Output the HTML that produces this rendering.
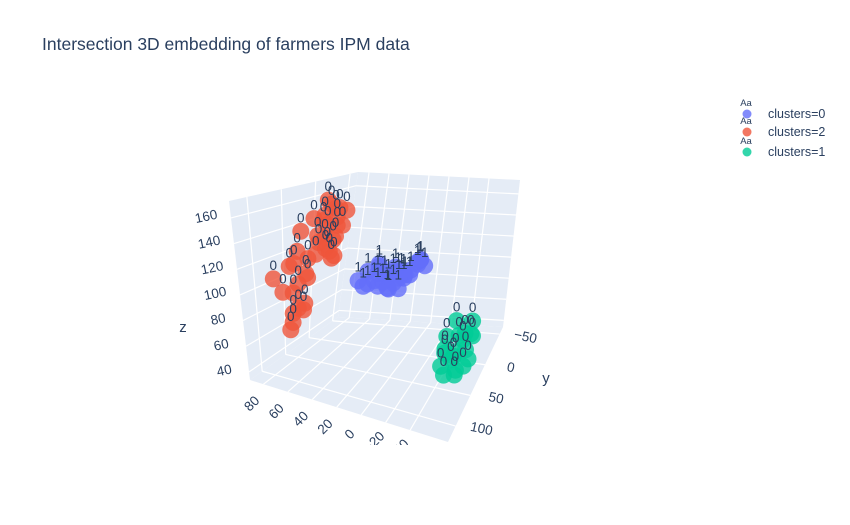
<!DOCTYPE html>
<html><head><meta charset="utf-8"><style>
html,body{margin:0;padding:0;background:#fff;}
svg{display:block;font-family:"Liberation Sans",Arial,sans-serif;}
</style></head><body>
<svg id="chart" width="850" height="525" viewBox="0 0 850 525">
<defs><clipPath id="xclip"><rect x="0" y="0" width="850" height="445"/></clipPath></defs>
<text x="42" y="50" font-size="17.5" fill="#2a3f5f">Intersection 3D embedding of farmers IPM data</text>
<g id="scene"></g>
<g id="legend"></g>
</svg>
<script>
const xTicks = [80, 60, 40, 20, 0, -20, -40];
const yTicks = [-50, 0, 50, 100];
const zTicks = [40, 60, 80, 100, 120, 140, 160];
const redX = [78,74,70,66,80,72,68,76,64,70,82,74,69,71,77,73,65,79,75,67,72,70,76,68,74,71,66,78,73,69,84,86,62,60,82,64,80,58,85,63];
const redY = [68,72,60,66,75,64,58,70,62,20,12,8,4,-2,10,15,6,0,-6,18,2,70,65,55,25,14,8,62,5,10,40,30,35,10,50,-4,20,28,80,45];
const redZ = [62,70,78,86,94,100,108,115,122,130,112,120,128,136,142,148,154,158,150,118,124,82,92,104,132,140,146,74,156,110,120,135,125,140,112,150,145,118,105,132];
const blueX = [62,58,55,50,46,42,38,34,30,26,22,18,14,10,6,52,44,36,28,20,12,48,40,32,24,16,8,56,30,18,38,26];
const blueY = [-30,-40,-35,-45,-28,-38,-50,-33,-42,-47,-30,-40,-52,-36,-44,-48,-32,-26,-50,-34,-46,-40,-45,-38,-30,-52,-38,-28,-35,-42,-40,-36];
const blueZ = [80,86,76,90,82,78,84,74,88,80,92,86,96,100,94,82,76,90,84,88,98,94,80,78,86,92,102,76,94,90,72,74];
const greenX = [-45,-50,-55,-60,-48,-52,-58,-62,-46,-54,-64,-50,-56,-60,-44,-66,-52,-58,-48,-62];
const greenY = [40,30,20,35,50,45,25,15,55,38,28,60,48,10,32,42,22,52,18,36];
const greenZ = [58,52,62,48,66,56,70,64,54,60,72,50,46,74,68,58,66,52,76,62];
const seriesNames = ["clusters=0", "clusters=2", "clusters=1"];
const seriesText = ["1", "0", "0"];

const NS = "http://www.w3.org/2000/svg";
const scene = document.getElementById('scene');
const legend = document.getElementById('legend');
const C000=[250,380],C100=[448,442],C110=[503,327],C010=[338,317],
      C001=[229,201],C011=[358,172],C111=[520,180],C101=[445,245];
function lerp(a,b,u){return [a[0]+(b[0]-a[0])*u,a[1]+(b[1]-a[1])*u];}
function Q(s,t,w){
  const b=lerp(lerp(C000,C100,s),lerp(C010,C110,s),t);
  const tp=lerp(lerp(C001,C101,s),lerp(C011,C111,s),t);
  return lerp(b,tp,w);
}
function sx(x){return (91-x)/162;}
function ty(y){return (126-y)/187.5;}
function wz(z){return (z-33.7)/139.5;}
function P(x,y,z){return Q(sx(x),ty(y),wz(z));}
function mk(tag,attrs,parent){const e=document.createElementNS(NS,tag);for(const k in attrs)e.setAttribute(k,attrs[k]);(parent||scene).appendChild(e);return e;}
function poly(pts){return pts.map(p=>p[0].toFixed(1)+','+p[1].toFixed(1)).join(' ');}
let w1=mk('polygon',{points:poly([Q(0,0,0),Q(0,1,0),Q(0,1,1),Q(0,0,1)]),fill:'#e5ecf6'});


let w2=mk('polygon',{points:poly([Q(0,1,0),Q(1,1,0),Q(1,1,1),Q(0,1,1)]),fill:'#e5ecf6'});


let w3=mk('polygon',{points:poly([Q(0,0,0),Q(1,0,0),Q(1,1,0),Q(0,1,0)]),fill:'#e5ecf6'});


function gl(a,b,name){const l=mk('line',{x1:a[0],y1:a[1],x2:b[0],y2:b[1],stroke:'#fff','stroke-width':1.2});
  
  }
zTicks.forEach(z=>{const w=wz(z);gl(Q(0,0,w),Q(0,1,w),'z-gridline');gl(Q(0,1,w),Q(1,1,w),'z-gridline');});
xTicks.forEach(x=>{const s=sx(x);gl(Q(s,1,0),Q(s,1,1),'x-gridline');gl(Q(s,0,0),Q(s,1,0),'x-gridline');});
yTicks.forEach(y=>{const t=ty(y);gl(Q(0,t,0),Q(0,t,1),'y-gridline');gl(Q(0,t,0),Q(1,t,0),'y-gridline');});
const xg=mk('g',{'clip-path':'url(#xclip)'});
xTicks.forEach(x=>{const p=Q(sx(x),0,0);const cx=p[0]-12,cy=p[1]+19;
  const t=mk('text',{x:cx,y:cy+5,'font-size':13.5,fill:'#2a3f5f','text-anchor':'middle',transform:`rotate(-45 ${cx} ${cy})`},xg);
  t.textContent=String(x).replace('-','−');
  
  });
yTicks.forEach(y=>{const p=Q(1,ty(y),0);const cx=p[0]+26,cy=p[1]+2;
  const t=mk('text',{x:cx,y:cy+5,'font-size':13.5,fill:'#2a3f5f','text-anchor':'middle',transform:`rotate(12 ${cx} ${cy})`});
  t.textContent=String(y).replace('-','−');
  
  });
zTicks.forEach(z=>{const p=Q(0,0,wz(z));const cx=p[0]-25,cy=p[1]-2;
  const t=mk('text',{x:cx,y:cy+5,'font-size':13.5,fill:'#2a3f5f','text-anchor':'middle',transform:`rotate(-12 ${cx} ${cy})`});
  t.textContent=String(z);
  
  });
let zt=mk('text',{x:183,y:332,'font-size':15,fill:'#2a3f5f','text-anchor':'middle'});zt.textContent='z';


let yt=mk('text',{x:546,y:383,'font-size':15,fill:'#2a3f5f','text-anchor':'middle'});yt.textContent='y';


const series=[[blueX,blueY,blueZ,'#636efa'],[redX,redY,redZ,'#EF553B'],[greenX,greenY,greenZ,'#00cc96']];
const labelG=[];
series.forEach((sr,k)=>{
  const g=mk('g',{});
  
  
  const lg=mk('g',{});
  
  
  labelG.push(lg);
  for(let i=0;i<sr[0].length;i++){
    const p=P(sr[0][i],sr[1][i],sr[2][i]);
    const c=mk('circle',{cx:p[0].toFixed(1),cy:p[1].toFixed(1),r:8.5,fill:sr[3],'fill-opacity':0.8},g);
    
    
    const t=mk('text',{x:p[0].toFixed(1),y:(p[1]-9).toFixed(1),'font-size':13.5,fill:'#2a3f5f','text-anchor':'middle'},lg);
    t.textContent=seriesText[k];
    
    
  }
});
labelG.forEach(l=>scene.appendChild(l));
const colors=['#636efa','#EF553B','#00cc96'];
const ly=[114,132,152];
seriesNames.forEach((n,k)=>{
  const g=mk('g',{},legend);
  
  
  const a=mk('text',{x:746,y:ly[k]-8,'font-size':9.5,fill:'#2a3f5f','text-anchor':'middle'},g);a.textContent='Aa';
  
  
  const c=mk('circle',{cx:747,cy:ly[k],r:4.5,fill:colors[k],'fill-opacity':0.8},g);
  
  
  const t=mk('text',{x:768,y:ly[k]+4,'font-size':12.5,fill:'#2a3f5f'},g);t.textContent=n;
  
  
});
</script>
</body></html>
